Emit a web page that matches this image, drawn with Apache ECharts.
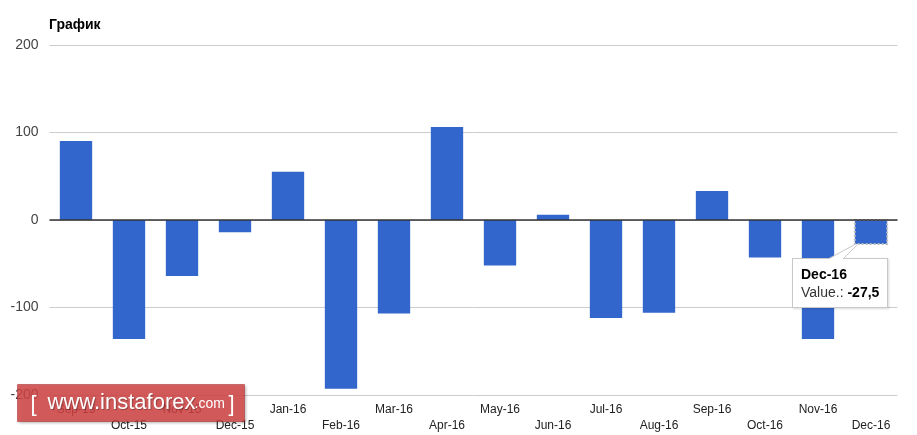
<!DOCTYPE html>
<html>
<head>
<meta charset="utf-8">
<script src="https://cdn.jsdelivr.net/npm/echarts@6/dist/echarts.min.js"></script>
<style>
html,body{margin:0;padding:0;background:#ffffff;}
#chart{width:917px;height:435px;}
</style>
</head>
<body>
<div id="chart"></div>
<script>
const categories = ['Sep-15','Oct-15','Nov-15','Dec-15','Jan-16','Feb-16','Mar-16','Apr-16','May-16','Jun-16','Jul-16','Aug-16','Sep-16','Oct-16','Nov-16','Dec-16'];
const values = [90, -136, -64, -14, 55, -193, -107, 106, -52, 6, -112, -106, 33, -43, -136, -27.5];
const yTicks = [-200, -100, 0, 100, 200];
const seriesName = 'Value.';
const titleText = 'График';

const FONT = '"Liberation Sans", Arial, sans-serif';
const chart = echarts.init(document.getElementById('chart'));

const pointerSvg = '<svg width="40" height="16" style="position:absolute;left:33px;top:-15px;overflow:visible" xmlns="http://www.w3.org/2000/svg">' +
  '<polygon points="2,15.5 28,1 31,1 17,15.5" fill="#ffffff"/>' +
  '<polyline points="2,15 28,1" stroke="#c8c8c8" stroke-width="1" fill="none"/>' +
  '<polyline points="31,1 17,15" stroke="#c8c8c8" stroke-width="1" fill="none"/>' +
  '</svg>';

chart.setOption({
  animation: false,
  backgroundColor: '#ffffff',
  title: {
    text: titleText,
    left: 44, top: 13,
    textStyle: { fontFamily: FONT, fontSize: 14, fontWeight: 'bold', color: '#000000' }
  },
  grid: { left: 49.5, right: 19.5, top: 44.8, bottom: 40 },
  tooltip: {
    trigger: 'item',
    alwaysShowContent: true,
    transitionDuration: 0,
    backgroundColor: '#ffffff',
    borderColor: '#c8c8c8',
    borderWidth: 1,
    padding: [6, 8, 6, 8],
    extraCssText: 'box-shadow:1px 1px 2px rgba(0,0,0,0.15);border-radius:0;overflow:visible;',
    textStyle: { fontFamily: FONT, fontSize: 14, color: '#000' },
    formatter: function (p) {
      const v = String(p.value).replace('.', ',');
      return pointerSvg +
        '<div style="font-weight:bold;line-height:18px;">' + p.name + '</div>' +
        '<div style="line-height:18px;"><span style="color:#333">' + p.seriesName + ': </span><b>' + v + '</b></div>';
    },
    position: function (point, params, dom, rect, size) {
      return [rect.x - 63, rect.y + rect.height + 14];
    }
  },
  xAxis: {
    type: 'category',
    data: categories,
    axisLine: { show: false, onZero: false },
    axisTick: { show: false },
    axisLabel: {
      interval: 0,
      margin: 7,
      fontFamily: FONT,
      fontSize: 12,
      color: '#222222',
      lineHeight: 16,
      verticalAlign: 'top',
      formatter: function (val, idx) { return idx % 2 === 1 ? '\n' + val : val; }
    },
    splitLine: { show: false }
  },
  yAxis: {
    type: 'value',
    min: yTicks[0], max: yTicks[yTicks.length - 1], interval: 100,
    axisLine: { show: false },
    axisTick: { show: false },
    axisLabel: { margin: 11, fontFamily: FONT, fontSize: 14, color: '#444444' },
    splitLine: { lineStyle: { color: '#cccccc', width: 1 } }
  },
  series: [{
    name: seriesName,
    type: 'bar',
    data: values,
    barWidth: '61%',
    itemStyle: { color: '#3366cc' },
    emphasis: { itemStyle: { color: '#3366cc', borderColor: '#bbbbbb', borderWidth: 2, borderType: 'dotted' } },
    markLine: {
      silent: true,
      symbol: 'none',
      label: { show: false },
      lineStyle: { color: '#333333', width: 1.5, type: 'solid' },
      data: [{ yAxis: 0 }]
    }
  }],
  graphic: [{
    type: 'group',
    left: 17, top: 384, z: 1000, zlevel: 1,
    children: [
      { type: 'rect', z: 1000, zlevel: 1, shape: { x: 0, y: 0, width: 227, height: 37 },
        style: { fill: 'rgba(216,68,68,0.82)', stroke: 'rgba(170,40,40,0.5)', lineWidth: 1,
                 shadowBlur: 3, shadowOffsetX: 1, shadowOffsetY: 1, shadowColor: 'rgba(0,0,0,0.35)' } },
      { type: 'text', z: 1001, zlevel: 1, style: { x: 13, y: 20, text: '[', fill: '#ffffff', font: '22px ' + FONT, verticalAlign: 'middle' } },
      { type: 'text', z: 1001, zlevel: 1, style: { x: 30, y: 18, text: 'www.instaforex', fill: '#ffffff', font: '22px ' + FONT, verticalAlign: 'middle',
                               textShadowColor: 'rgba(0,0,0,0.3)', textShadowBlur: 1, textShadowOffsetX: 1, textShadowOffsetY: 1 } },
      { type: 'text', z: 1001, zlevel: 1, style: { x: 177, y: 20, text: '.com', fill: '#ffffff', font: '14px ' + FONT, verticalAlign: 'middle' } },
      { type: 'text', z: 1001, zlevel: 1, style: { x: 211, y: 20, text: ']', fill: '#ffffff', font: '22px ' + FONT, verticalAlign: 'middle' } }
    ]
  }]
});

chart.dispatchAction({ type: 'highlight', seriesIndex: 0, dataIndex: values.length - 1 });
chart.dispatchAction({ type: 'showTip', seriesIndex: 0, dataIndex: values.length - 1 });
</script>
</body>
</html>
